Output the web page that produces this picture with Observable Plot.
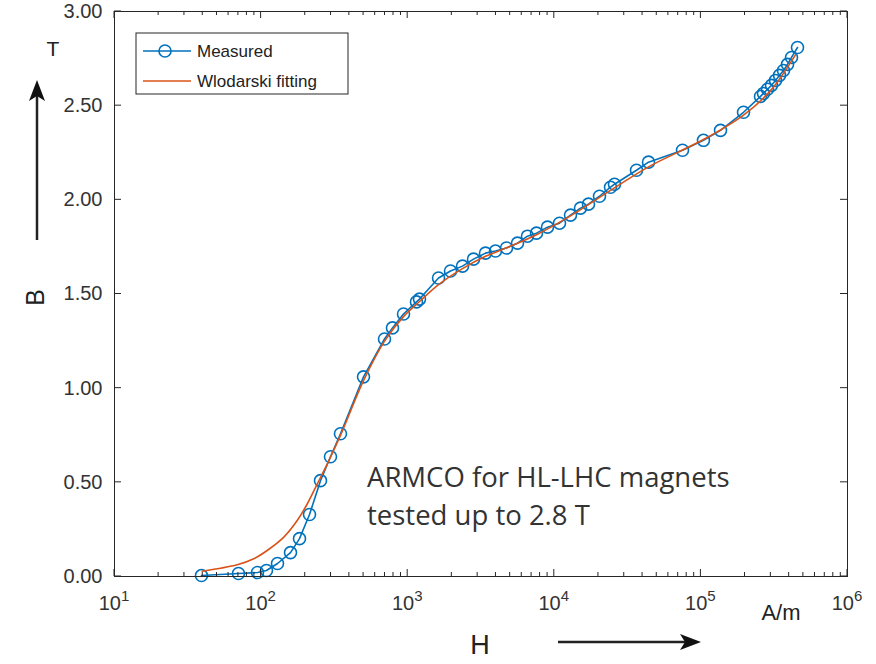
<!DOCTYPE html>
<html><head><meta charset="utf-8">
<script src="https://cdn.jsdelivr.net/npm/d3@7"></script>
<script src="https://cdn.jsdelivr.net/npm/@observablehq/plot@0.6"></script>
<style>body{margin:0;background:#fff}</style>
</head><body><div id="chart"></div>
<script>
// Measured B-H data (ARMCO)
const measuredH = [39.2, 70.1, 94.5, 108.8, 129.4, 158.7, 182.8, 213.9, 254.2, 297.4, 347.9, 499.5, 694.7, 787.5, 936.3, 1148, 1204, 1623, 1959, 2365, 2811, 3394, 3971, 4721, 5610, 6564, 7560, 8987, 10850, 12900, 15090, 17110, 20340, 24180, 25740, 36370, 43920, 74910, 104100, 136100, 195300, 255000, 267300, 284700, 303000, 322800, 343800, 366000, 389700, 415000, 456000];
const measuredB = [0.005, 0.016, 0.021, 0.032, 0.069, 0.127, 0.201, 0.329, 0.509, 0.636, 0.758, 1.060, 1.261, 1.320, 1.394, 1.458, 1.473, 1.585, 1.622, 1.648, 1.685, 1.717, 1.728, 1.744, 1.770, 1.807, 1.823, 1.855, 1.876, 1.919, 1.956, 1.977, 2.019, 2.067, 2.083, 2.157, 2.200, 2.263, 2.316, 2.369, 2.465, 2.549, 2.565, 2.587, 2.608, 2.634, 2.661, 2.687, 2.719, 2.756, 2.809];
// Wlodarski fitting curve
const fitH = [39.6, 68.7, 89.1, 110, 142.9, 176.3, 206.3, 241.3, 282.4, 347.9, 499.5, 695, 936, 1204, 1623, 2365, 3394, 4721, 7560, 12900, 24180, 43920, 104100, 195300, 298400, 441600];
const fitB = [0.028, 0.062, 0.094, 0.138, 0.209, 0.297, 0.385, 0.491, 0.597, 0.749, 1.04, 1.25, 1.38, 1.46, 1.55, 1.635, 1.70, 1.745, 1.815, 1.915, 2.05, 2.175, 2.32, 2.45, 2.58, 2.77];

const xTicks = [1e1, 1e2, 1e3, 1e4, 1e5, 1e6];
const xTickExp = ["1", "2", "3", "4", "5", "6"];
const yTicks = [0, 0.5, 1, 1.5, 2, 2.5, 3];
const seriesNames = ["Measured", "Wlodarski fitting"];
const seriesColors = ["#0072BD", "#D95319"];
const annotationText = ["ARMCO for HL-LHC magnets", "tested up to 2.8 T"];

const measured = measuredH.map((h, i) => ({H: h, B: measuredB[i]}));
const fit = fitH.map((h, i) => ({H: h, B: fitB[i]}));
const minorX = xTicks.slice(0, -1).flatMap(t => d3.range(2, 10).map(m => m * t));

const axisColor = "#262626";

function decorations(index, scales, values, dims) {
  const {x, y} = scales;
  const L = dims.marginLeft, R = dims.width - dims.marginRight;
  const T = dims.marginTop, B = dims.height - dims.marginBottom;
  const g = d3.create("svg:g").attr("fill", "none").attr("text-anchor", "start");
  const ln = (x1, y1, x2, y2, c = axisColor, w = 1) => g.append("line").attr("x1", x1).attr("y1", y1).attr("x2", x2).attr("y2", y2).attr("stroke", c).attr("stroke-width", w);
  // x ticks (inward, bottom and top)
  for (const t of xTicks) { const p = x(t); ln(p, B, p, B - 7); ln(p, T, p, T + 7); }
  for (const t of minorX) { const p = x(t); ln(p, B, p, B - 4); ln(p, T, p, T + 4); }
  for (const t of yTicks) { const p = y(t); ln(L, p, L + 7, p); ln(R, p, R - 7, p); }
  // x tick labels with superscripts
  xTicks.forEach((t, i) => {
    const tx = g.append("text").attr("x", x(t)).attr("y", B + 34).attr("text-anchor", "middle")
      .attr("fill", "#333").attr("font-size", 20);
    tx.append("tspan").text("10");
    tx.append("tspan").attr("dy", -9).attr("font-size", 15).text(xTickExp[i]);
  });
  // unit and axis labels
  g.append("text").attr("x", R - 66).attr("y", B + 44).attr("text-anchor", "middle").attr("fill", "#222").attr("font-size", 22).text("A/m");
  g.append("text").attr("x", 53).attr("y", T + 45).attr("text-anchor", "middle").attr("fill", "#222").attr("font-size", 21).text("T");
  g.append("text").attr("transform", `translate(44,${(T + B) / 2 + 4}) rotate(-90)`).attr("text-anchor", "middle").attr("fill", "#222").attr("font-size", 25).text("B");
  g.append("text").attr("x", 480).attr("y", dims.height - 10).attr("text-anchor", "middle").attr("fill", "#222").attr("font-size", 27).text("H");
  // arrows
  ln(37, 240, 37, 92, "#222", 2.5);
  g.append("path").attr("d", "M37,80 L29,101 L37,96 L45,101 Z").attr("fill", "#111");
  ln(558, 642, 688, 642, "#222", 2.5);
  g.append("path").attr("d", "M701,642 L680,634 L685,642 L680,650 Z").attr("fill", "#111");
  // annotation
  const an = g.append("text").attr("fill", "#333").attr("text-anchor", "start").attr("font-family", "Open Sans, Noto Sans, sans-serif").attr("font-size", 27.5);
  annotationText.forEach((s, i) => an.append("tspan").attr("x", 367).attr("y", 487 + i * 38).text(s));
  // legend
  const lx = 136, ly = 33;
  g.append("rect").attr("x", lx).attr("y", ly).attr("width", 212).attr("height", 61).attr("fill", "#fff").attr("stroke", axisColor);
  seriesNames.forEach((name, i) => {
    const yy = ly + 18 + i * 30;
    ln(lx + 7, yy, lx + 55, yy, seriesColors[i], 1.6);
    if (i === 0) g.append("circle").attr("cx", lx + 29).attr("cy", yy).attr("r", 6).attr("stroke", seriesColors[0]).attr("stroke-width", 1.6).attr("fill", "none");
    g.append("text").attr("x", lx + 61).attr("y", yy).attr("dy", "0.35em").attr("text-anchor", "start").attr("fill", "#222").attr("font-size", 17).text(name);
  });
  return g.node();
}

const chart = Plot.plot({
  width: 876,
  height: 664,
  marginLeft: 114,
  marginRight: 29,
  marginTop: 11,
  marginBottom: 88,
  style: {fontFamily: "Liberation Sans, Arial, sans-serif", fontSize: "20px", background: "#fff"},
  x: {type: "log", domain: [10, 1e6], axis: null},
  y: {domain: [0, 3], axis: null},
  marks: [
    Plot.axisY(yTicks, {anchor: "left", tickSize: 0, tickPadding: 12, tickFormat: d3.format(".2f"), color: "#333", fontSize: 20, label: null}),
    Plot.line(measured, {x: "H", y: "B", stroke: seriesColors[0], strokeWidth: 1.6}),
    Plot.dot(measured, {x: "H", y: "B", r: 6, stroke: seriesColors[0], strokeWidth: 1.6, fill: "none"}),
    Plot.line(fit, {x: "H", y: "B", stroke: seriesColors[1], strokeWidth: 1.6, curve: "catmull-rom"}),
    Plot.frame({stroke: axisColor}),
    decorations
  ]
});
document.getElementById("chart").appendChild(chart);
</script>
</body></html>
